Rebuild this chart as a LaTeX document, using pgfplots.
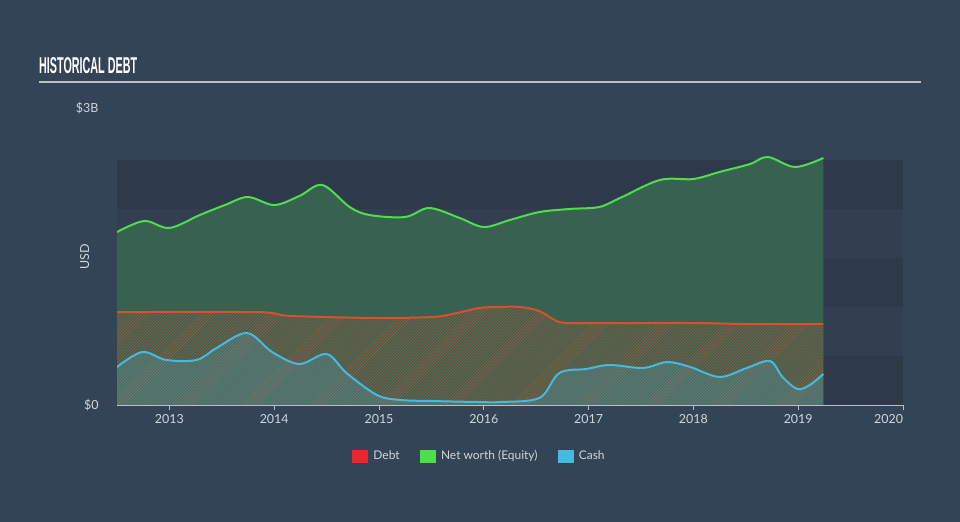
\documentclass[border=0pt]{standalone}
\usepackage{pgfplots}
\pgfplotsset{compat=1.18}
\usetikzlibrary{patterns}
\usepackage{fontspec}
\setmainfont{Lato}
\newfontfamily\titlefont[FakeStretch=0.47]{Liberation Sans}
\definecolor{bg}{HTML}{344457}
\definecolor{banddark}{HTML}{2E3A4A}
\definecolor{bandlight}{HTML}{323F50}
\definecolor{eqfill}{HTML}{386250}
\definecolor{eqline}{HTML}{4FDD4F}
\definecolor{debtline}{HTML}{D9502D}
\definecolor{debthatch}{HTML}{B8573A}
\definecolor{cashline}{HTML}{47B9E0}
\definecolor{axisgray}{HTML}{B8BFC7}
\definecolor{labelgray}{HTML}{D0D5DA}
\definecolor{legred}{HTML}{E8262B}
\definecolor{leggreen}{HTML}{4BE04B}
\definecolor{legblue}{HTML}{47B9E0}
\begin{document}
\begin{tikzpicture}
\fill[bg] (0bp,0bp) rectangle (960bp,522bp);
\node[anchor=base west, inner sep=0pt, text=white, font=\titlefont\bfseries\fontsize{23}{23}\selectfont] at (39bp,448bp) {HISTORICAL DEBT};
\draw[color=axisgray, line width=2bp] (39bp,440bp) -- (921bp,440bp);
\begin{axis}[
  at={(117bp,117bp)}, anchor=south west,
  width=786bp, height=297bp, scale only axis,
  xmin=2012.5, xmax=2020, ymin=0, ymax=3,
  axis lines*=left,
  x axis line style={draw=axisgray, line width=1bp},
  y axis line style={draw=none},
  xtick={2013,2014,2015,2016,2017,2018,2019,2020},
  xticklabels={2013,2014,2015,2016,2017,2018,2019,\llap{2020}},
  ytick={0,3},
  yticklabels={\$0,\$3B},
  tick align=outside,
  major tick length=5bp,
  xtick style={draw=axisgray, line width=1bp},
  ytick style={draw=none},
  x tick label style={text=labelgray, font=\fontsize{12.5}{14}\selectfont, yshift=-1bp},
  y tick label style={text=labelgray, font=\fontsize{12.5}{14}\selectfont, xshift=-10bp},
  ylabel={USD},
  ylabel style={text=labelgray, font=\fontsize{12.5}{14}\selectfont, at={(axis description cs:-0.041,0.5)}, anchor=center},
  legend style={at={(axis description cs:0.461,-0.172)}, anchor=center, draw=none, fill=none, text=labelgray, font=\fontsize{12}{14}\selectfont, legend columns=3, /tikz/every even column/.append style={column sep=18bp}},
  legend cell align=left,
  clip=true,
]
% background bands
\fill[banddark] (axis cs:2012.5,1.98) rectangle (axis cs:2020,2.475);
\fill[bandlight] (axis cs:2012.5,1.485) rectangle (axis cs:2020,1.98);
\fill[banddark] (axis cs:2012.5,0.99) rectangle (axis cs:2020,1.485);
\fill[bandlight] (axis cs:2012.5,0.495) rectangle (axis cs:2020,0.99);
\fill[banddark] (axis cs:2012.5,0) rectangle (axis cs:2020,0.495);

% equity fill
\addplot[draw=none, fill=eqfill, smooth, tension=0.55, forget plot] coordinates {
(2012.5,1.747) (2012.76,1.859) (2013.0,1.788) (2013.29,1.919) (2013.53,2.020) (2013.75,2.101)
(2014.0,2.020) (2014.24,2.111) (2014.46,2.222) (2014.72,2.0) (2014.91,1.919) (2015.25,1.899)
(2015.48,1.990) (2015.77,1.889) (2016.0,1.798) (2016.25,1.869) (2016.53,1.949)
(2016.82,1.980) (2017.1,2.0) (2017.3,2.091) (2017.68,2.273) (2018.0,2.283) (2018.25,2.354)
(2018.54,2.434) (2018.71,2.505) (2018.97,2.404) (2019.24,2.495)
} \closedcycle;
% debt hatch
\addplot[draw=none, pattern=north east lines, pattern color=debthatch, smooth, tension=0.55, forget plot] coordinates {
(2012.5,0.939) (2013.74,0.939) (2013.98,0.929) (2014.17,0.899) (2014.98,0.879) (2015.51,0.889)
(2015.70,0.919) (2015.96,0.980) (2016.15,0.990) (2016.34,0.990) (2016.53,0.949) (2016.72,0.838)
(2016.94,0.828) (2018.0,0.828) (2018.5,0.818) (2019.24,0.818)
} \closedcycle;
% cash tint
\addplot[draw=none, fill=cashline, fill opacity=0.22, smooth, tension=0.55, forget plot] coordinates {
(2012.5,0.384) (2012.74,0.535) (2012.97,0.455) (2013.26,0.455) (2013.45,0.576) (2013.74,0.727)
(2013.98,0.535) (2014.24,0.414) (2014.50,0.515) (2014.69,0.323) (2014.98,0.101) (2015.20,0.051)
(2015.51,0.040) (2015.96,0.030) (2016.15,0.030) (2016.53,0.071) (2016.72,0.323) (2016.98,0.364)
(2017.20,0.404) (2017.52,0.374) (2017.75,0.434) (2017.97,0.384) (2018.25,0.283) (2018.51,0.374)
(2018.73,0.444) (2018.85,0.283) (2018.99,0.162) (2019.11,0.202) (2019.24,0.313)
} \closedcycle;

% lines
\addplot[eqline, line width=2bp, smooth, tension=0.55, forget plot] coordinates {
(2012.5,1.747) (2012.76,1.859) (2013.0,1.788) (2013.29,1.919) (2013.53,2.020) (2013.75,2.101)
(2014.0,2.020) (2014.24,2.111) (2014.46,2.222) (2014.72,2.0) (2014.91,1.919) (2015.25,1.899)
(2015.48,1.990) (2015.77,1.889) (2016.0,1.798) (2016.25,1.869) (2016.53,1.949)
(2016.82,1.980) (2017.1,2.0) (2017.3,2.091) (2017.68,2.273) (2018.0,2.283) (2018.25,2.354)
(2018.54,2.434) (2018.71,2.505) (2018.97,2.404) (2019.24,2.495)
};
\addplot[debtline, line width=2bp, smooth, tension=0.55, forget plot] coordinates {
(2012.5,0.939) (2013.74,0.939) (2013.98,0.929) (2014.17,0.899) (2014.98,0.879) (2015.51,0.889)
(2015.70,0.919) (2015.96,0.980) (2016.15,0.990) (2016.34,0.990) (2016.53,0.949) (2016.72,0.838)
(2016.94,0.828) (2018.0,0.828) (2018.5,0.818) (2019.24,0.818)
};
\addplot[cashline, line width=2bp, smooth, tension=0.55, forget plot] coordinates {
(2012.5,0.384) (2012.74,0.535) (2012.97,0.455) (2013.26,0.455) (2013.45,0.576) (2013.74,0.727)
(2013.98,0.535) (2014.24,0.414) (2014.50,0.515) (2014.69,0.323) (2014.98,0.101) (2015.20,0.051)
(2015.51,0.040) (2015.96,0.030) (2016.15,0.030) (2016.53,0.071) (2016.72,0.323) (2016.98,0.364)
(2017.20,0.404) (2017.52,0.374) (2017.75,0.434) (2017.97,0.384) (2018.25,0.283) (2018.51,0.374)
(2018.73,0.444) (2018.85,0.283) (2018.99,0.162) (2019.11,0.202) (2019.24,0.313)
};

\addlegendimage{legend image code/.code={\fill[legred] (0bp,-6bp) rectangle (15bp,6bp); \path (19bp,0bp);}}
\addlegendentry{Debt}
\addlegendimage{legend image code/.code={\fill[leggreen] (0bp,-6bp) rectangle (15bp,6bp); \path (19bp,0bp);}}
\addlegendentry{Net worth (Equity)}
\addlegendimage{legend image code/.code={\fill[legblue] (0bp,-6bp) rectangle (15bp,6bp); \path (19bp,0bp);}}
\addlegendentry{Cash}
\end{axis}
\end{tikzpicture}
\end{document}
